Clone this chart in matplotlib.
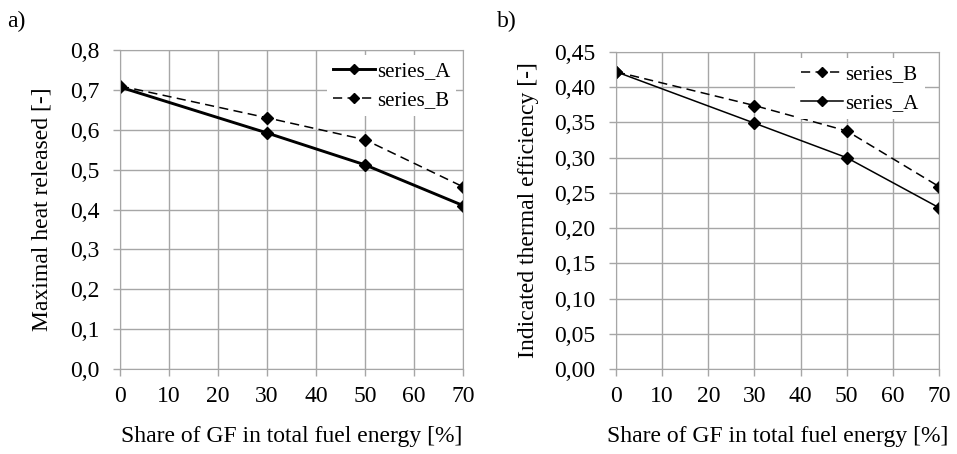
import matplotlib
matplotlib.use('Agg')
from matplotlib import pyplot as plt
from matplotlib.ticker import FuncFormatter

plt.rcParams['font.family'] = ['Liberation Serif', 'DejaVu Serif']
plt.rcParams['font.size'] = 17

share = [0, 30, 50, 70]
heat_a = [0.707, 0.592, 0.512, 0.410]
heat_b = [0.710, 0.630, 0.575, 0.457]
eff_a = [0.422, 0.349, 0.300, 0.229]
eff_b = [0.422, 0.374, 0.338, 0.259]

grid_col = '#a6a6a6'
dash = (0, (6, 3.5))


def comma_fmt(decimals):
    return FuncFormatter(lambda v, p: f'{v:.{decimals}f}'.replace('.', ','))


def style_axes(ax, ymax, ystep, decimals):
    ax.set_xlim(0, 70)
    ax.set_ylim(0, ymax)
    ax.set_xticks(range(0, 71, 10))
    n = int(round(ymax / ystep))
    ax.set_yticks([i * ystep for i in range(n + 1)])
    ax.yaxis.set_major_formatter(comma_fmt(decimals))
    ax.grid(True, color=grid_col, linewidth=1.0)
    ax.set_axisbelow(True)
    for s in ax.spines.values():
        s.set_color(grid_col)
    ax.tick_params(axis='both', color=grid_col, length=5, width=1.0)
    ax.tick_params(axis='x', pad=7)
    ax.tick_params(axis='y', pad=10)
    ax.set_xlabel('Share of GF in total fuel energy [%]', labelpad=14)


def add_legend(ax, x0, y0):
    ax.legend(loc='upper left', bbox_to_anchor=(x0, y0), frameon=True, fancybox=False,
              edgecolor='none', framealpha=1.0, fontsize=15, handlelength=2.0,
              handletextpad=0.1, borderaxespad=0.0, borderpad=0.3, labelspacing=0.45,
              markerscale=0.75)


fig = plt.figure(figsize=(9.57, 4.54), dpi=100)
ax1 = fig.add_axes([120 / 957, 1 - 369 / 454, 343 / 957, 319 / 454])
ax2 = fig.add_axes([616 / 957, 1 - 369 / 454, 323 / 957, 317 / 454])

# a) maximal heat released
ax1.plot(share, heat_a, color='black', linewidth=2.1, marker='D', markersize=6.5, label='series_A')
ax1.plot(share, heat_b, color='black', linewidth=1.1, linestyle=dash, marker='D',
         markersize=6.5, label='series_B')
style_axes(ax1, 0.8, 0.1, 1)
ax1.set_ylabel('Maximal heat released [-]', labelpad=12)
add_legend(ax1, 0.603, 0.984)

# b) indicated thermal efficiency
ax2.plot(share, eff_b, color='black', linewidth=1.1, linestyle=dash, marker='D',
         markersize=6.5, label='series_B')
ax2.plot(share, eff_a, color='black', linewidth=1.1, marker='D', markersize=6.5, label='series_A')
style_axes(ax2, 0.45, 0.05, 2)
ax2.set_ylabel('Indicated thermal efficiency [-]', labelpad=11)
add_legend(ax2, 0.554, 0.98)

fig.text(7 / 957, 1 - 21 / 454, 'a)', fontsize=17, va='center')
fig.text(497 / 957, 1 - 21 / 454, 'b)', fontsize=17, va='center')

plt.savefig('out.png', dpi=100)
